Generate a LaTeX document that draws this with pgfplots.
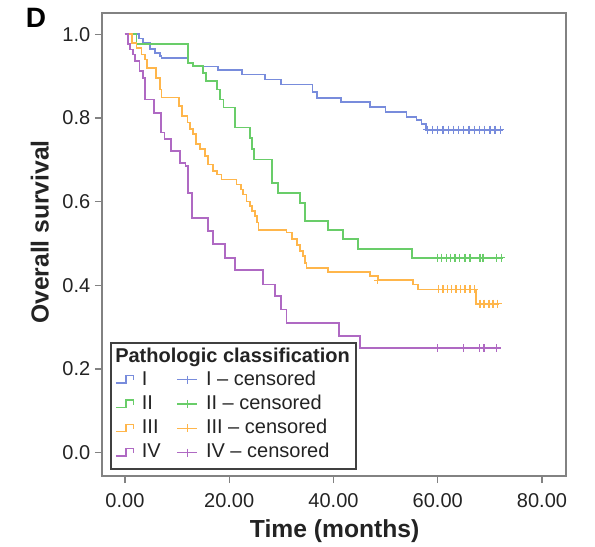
\documentclass[border=0pt]{standalone}
\usepackage{fontspec}
\setmainfont{Liberation Sans}
\usepackage{pgfplots}
\pgfplotsset{compat=1.18}

\definecolor{cI}{RGB}{120,140,220}
\definecolor{cII}{RGB}{105,205,105}
\definecolor{cIII}{RGB}{255,182,75}
\definecolor{cIV}{RGB}{175,105,195}
\definecolor{axgray}{RGB}{130,130,130}
\definecolor{txt}{RGB}{35,35,35}

\pgfplotsset{
  kmline/.style={const plot, line width=1.3pt, mark=none,
    legend image code/.code={\draw[##1, line width=1pt] (0pt,-2.5pt) -- (7.5pt,-2.5pt) -- (7.5pt,3pt) -- (13pt,3pt) -- (13pt,-0.5pt);}},
  kmcens/.style={only marks, mark=+, mark size=3pt, mark options={line width=1pt},
    legend image code/.code={\draw[##1, line width=0.9pt] (0pt,0pt) -- (15pt,0pt); \draw[##1] plot coordinates {(7.5pt,0pt)};}},
}

\begin{document}
\begin{tikzpicture}
\path[use as bounding box] (-76.5pt,-52.5pt) rectangle (369.75pt,357pt);
\begin{axis}[
    scale only axis, width=348pt, height=347.25pt,
    xmin=-4.4, xmax=84.6, ymin=-0.056, ymax=1.051,
    axis line style={axgray, line width=1.2pt},
    tick align=outside, tick pos=left,
    major tick length=5.25pt,
    tick style={axgray, line width=1pt},
    xtick={0,20,40,60,80}, ytick={0,0.2,0.4,0.6,0.8,1.0},
    xticklabel style={/pgf/number format/fixed, /pgf/number format/fixed zerofill, /pgf/number format/precision=2, yshift=-4.5pt},
    yticklabel style={/pgf/number format/fixed, /pgf/number format/fixed zerofill, /pgf/number format/precision=1},
    /pgf/number format/assume math mode=true,
    ticklabel style={font=\fontsize{15}{18}\selectfont, text=txt},
    xlabel={Time (months)}, ylabel={Overall survival},
    every axis x label/.style={at={(axis description cs:0.5015,-0.120)}, anchor=center,
      font=\bfseries\fontsize{18.5}{22}\selectfont, text=txt},
    every axis y label/.style={at={(axis description cs:-0.134,0.527)}, rotate=90, anchor=center,
      font=\bfseries\fontsize{18.5}{22}\selectfont, text=txt},
    legend columns=2, legend cell align=left,
    legend style={name=leg, draw=none, fill=none, inner sep=0pt,
      at={(rel axis cs:0.028,0.2316)}, anchor=north west,
      font=\fontsize{15}{18}\selectfont, text=txt,
      nodes={inner sep=1pt, text height=11pt, text depth=3pt},
      row sep=2.2pt, column sep=5pt,
      /tikz/every even column/.append style={column sep=11pt}},
  ]
  % I
  \addplot[kmline, cI] coordinates {(0,1.0) (2.7,0.99) (3.5,0.98) (4.8,0.965) (5.8,0.955) (6.7,0.948) (7.0,0.944)
    (12.1,0.932) (13.1,0.923) (17.9,0.915) (22.4,0.904) (26.8,0.892) (30.0,0.880) (36.0,0.862) (36.8,0.847)
    (41.4,0.838) (47.0,0.826) (50.0,0.815) (54.0,0.803) (55.9,0.795) (56.9,0.785) (57.7,0.772) (72.5,0.772)};
  \addlegendentry{I}
  \addplot[kmcens, cI] coordinates {(58,0.772) (59,0.772) (60,0.772) (61,0.772) (62,0.772) (63,0.772) (64,0.772)
    (65,0.772) (66,0.772) (67,0.772) (68,0.772) (69,0.772) (70,0.772) (71,0.772) (72,0.772)};
  \addlegendentry{I – censored}
  % II
  \addplot[kmline, cII] coordinates {(0,1.0) (2.2,0.976) (12.1,0.932) (13.0,0.924) (15.0,0.908) (15.6,0.888)
    (17.6,0.868) (18.2,0.844) (18.9,0.825) (21.1,0.777) (24.0,0.753) (24.4,0.725) (24.8,0.701) (28.2,0.645)
    (29.4,0.621) (33.6,0.596) (34.5,0.553) (39.0,0.532) (41.8,0.510) (44.7,0.487) (55.0,0.466) (72.5,0.466)};
  \addlegendentry{II}
  \addplot[kmcens, cII] coordinates {(59.9,0.466) (60.7,0.466) (61.7,0.466) (62.5,0.466) (63.3,0.466) (64.2,0.466)
    (65.2,0.466) (66.2,0.466) (68.1,0.466) (68.7,0.466) (71.3,0.466) (72.2,0.466)};
  \addlegendentry{II – censored}
  % III
  \addplot[kmline, cIII] coordinates {(0,1.0) (1.3,0.980) (2.2,0.968) (3.2,0.952) (3.8,0.940) (4.2,0.920)
    (6.0,0.896) (6.7,0.868) (7.0,0.849) (10.3,0.828) (11.0,0.805) (12.0,0.789) (12.5,0.773) (13.1,0.761)
    (13.7,0.737) (14.4,0.725) (15.3,0.709) (16.0,0.689) (16.9,0.673) (17.6,0.665) (18.5,0.653) (21.4,0.641)
    (22.2,0.629) (22.7,0.617) (23.3,0.600) (24.0,0.589) (24.4,0.577) (24.9,0.565) (25.3,0.550) (25.6,0.533)
    (31.0,0.526) (32.0,0.510) (33.0,0.496) (33.6,0.482) (34.2,0.470) (34.5,0.454) (34.8,0.442) (39.0,0.431)
    (47.0,0.422) (48.5,0.412) (55.3,0.402) (56.2,0.390) (67.4,0.356) (71.8,0.356)};
  \addlegendentry{III}
  \addplot[kmcens, cIII] coordinates {(48.5,0.412) (60.1,0.390) (61.0,0.390) (61.9,0.390) (62.7,0.390) (63.5,0.390)
    (64.3,0.390) (65.2,0.390) (66.2,0.390) (67.0,0.390) (68.1,0.356) (68.9,0.356) (69.8,0.356) (70.6,0.356) (71.5,0.356)};
  \addlegendentry{III – censored}
  % IV
  \addplot[kmline, cIV] coordinates {(0,1.0) (0.6,0.976) (1.0,0.964) (1.5,0.952) (2.0,0.936) (2.8,0.912)
    (3.5,0.896) (3.8,0.844) (5.6,0.812) (6.9,0.765) (7.6,0.749) (8.9,0.721) (10.6,0.693) (11.6,0.685)
    (12.1,0.621) (12.8,0.561) (16.0,0.529) (16.9,0.498) (19.2,0.466) (21.1,0.436) (26.5,0.402) (28.8,0.374)
    (30.0,0.342) (31.0,0.310) (41.0,0.278) (45.1,0.250) (71.6,0.250)};
  \addlegendentry{IV}
  \addplot[kmcens, cIV] coordinates {(59.9,0.250) (65.0,0.250) (68.0,0.250) (68.9,0.250) (71.3,0.250)};
  \addlegendentry{IV – censored}
\end{axis}
\node[anchor=base west, inner sep=0pt, font=\bfseries\fontsize{15}{18}\selectfont, text=txt] at (9.75pt,85.5pt) {Pathologic classification};
\draw[black!75, line width=0.8pt] (6.75pt,5.25pt) rectangle (190.5pt,99.75pt);
\node[font=\bfseries\fontsize{21}{24}\selectfont, text=black] at (-49.5pt,343.5pt) {D};
\end{tikzpicture}
\end{document}
